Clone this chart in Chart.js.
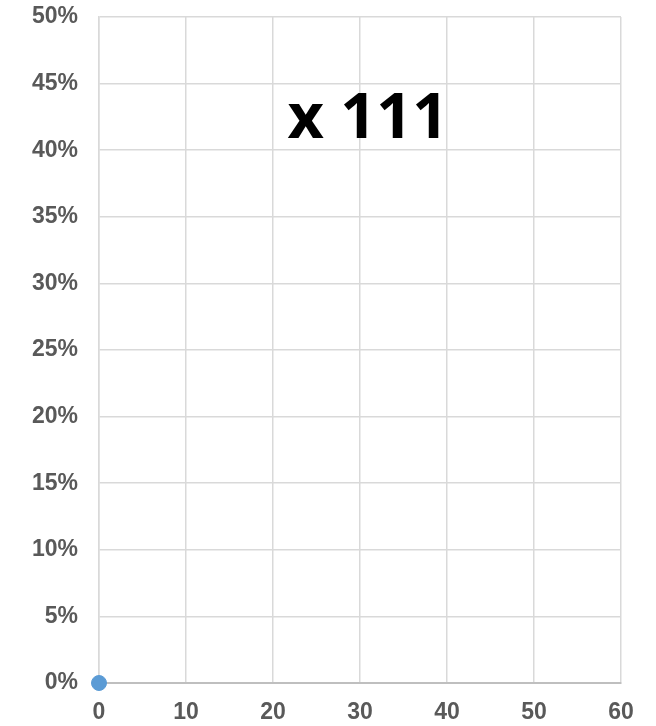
<!DOCTYPE html>
<html>
<head>
<meta charset="utf-8">
<script src="https://cdn.jsdelivr.net/npm/chart.js@4.4.0/dist/chart.umd.min.js"></script>
<style>
  html, body { margin: 0; padding: 0; background: #fff; }
  #wrap { width: 656px; height: 726px; position: relative; }
</style>
</head>
<body>
<div id="wrap"><canvas id="chart" width="656" height="726"></canvas></div>
<script>
// data
const xValues = [0];
const yValues = [0];
const xTicks = [0, 10, 20, 30, 40, 50, 60];
const yTicks = [0, 5, 10, 15, 20, 25, 30, 35, 40, 45, 50];
const annotationText = 'x 111';
const annotationPos = [30.9, 40.9];

const points = xValues.map((x, i) => ({ x: x, y: yValues[i] }));

// big label drawn on the chart area
const labelPlugin = {
    id: 'bigLabel',
    afterDatasetsDraw(chart) {
        const ctx = chart.ctx;
        const px = chart.scales.x.getPixelForValue(annotationPos[0]);
        const py = chart.scales.y.getPixelForValue(annotationPos[1]);
        ctx.save();
        ctx.font = 'bold 63px "Open Sans"';
        ctx.fillStyle = '#000';
        ctx.textAlign = 'center';
        ctx.textBaseline = 'alphabetic';
        ctx.fillText(annotationText, px, py);
        ctx.restore();
    }
};

const tickFont = { family: '"Liberation Sans", Arial, sans-serif', size: 23, weight: 'bold' };

new Chart(document.getElementById('chart').getContext('2d'), {
    type: 'scatter',
    data: {
        datasets: [{
            data: points,
            backgroundColor: '#5b9bd5',
            borderColor: '#5b9bd5',
            pointRadius: 7.5,
            pointHoverRadius: 7.5,
            clip: false
        }]
    },
    options: {
        responsive: false,
        animation: false,
        layout: { padding: { top: 17, right: 35, bottom: 0, left: 0 } },
        plugins: { legend: { display: false }, tooltip: { enabled: false } },
        scales: {
            x: {
                type: 'linear',
                min: 0, max: 60,
                afterBuildTicks: s => { s.ticks = xTicks.map(v => ({ value: v })); },
                afterFit: s => { s.height = 43; },
                grid: { color: '#d9d9d9', lineWidth: 1.5, drawTicks: false },
                border: { color: '#bfbfbf', width: 2 },
                ticks: { font: tickFont, color: '#595959', padding: 16, maxRotation: 0 }
            },
            y: {
                type: 'linear',
                min: 0, max: 50,
                afterBuildTicks: s => { s.ticks = yTicks.map(v => ({ value: v })); },
                afterFit: s => { s.width = 99; s.paddingTop = 0; s.paddingBottom = 0; },
                grid: { color: '#d9d9d9', lineWidth: 1.5, drawTicks: false },
                border: { color: '#d9d9d9', width: 1.5 },
                ticks: { font: tickFont, color: '#595959', padding: 21, callback: v => v + '%' }
            }
        }
    },
    plugins: [labelPlugin]
});
</script>
</body>
</html>
